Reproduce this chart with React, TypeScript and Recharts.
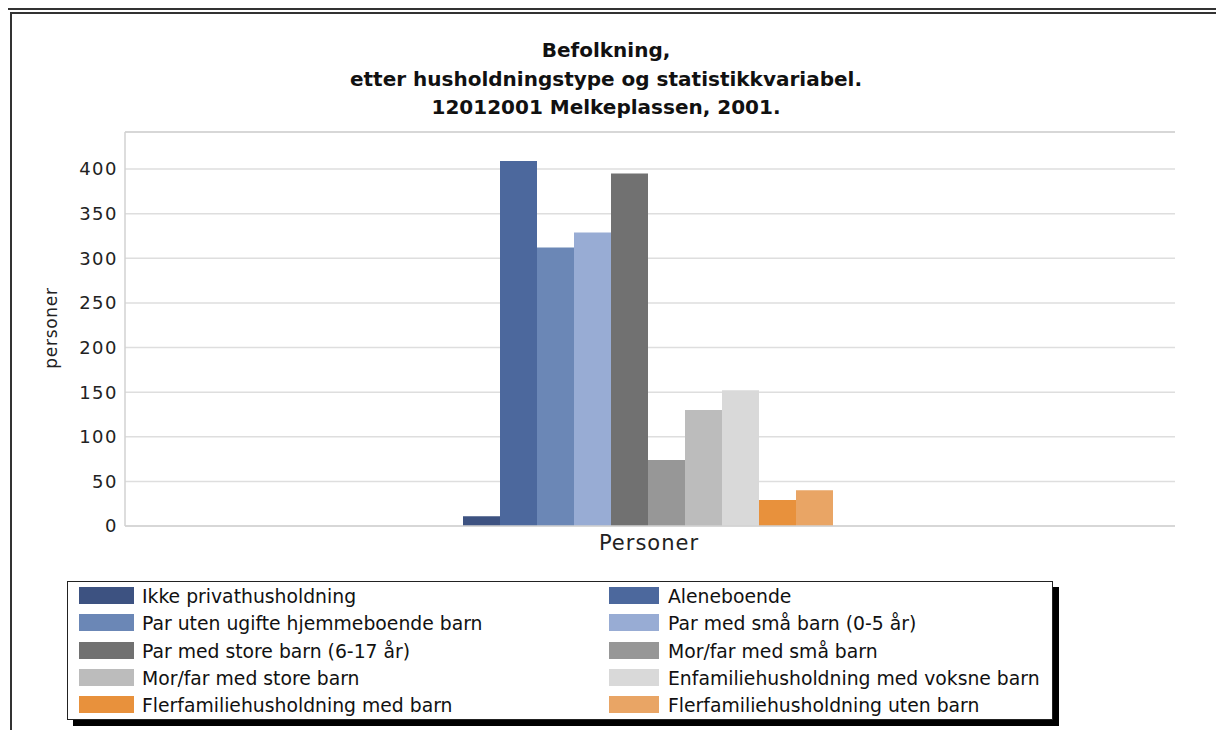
import { Bar, BarChart, CartesianGrid, ReferenceLine, XAxis, YAxis } from "recharts";

const categories = ["Personer"];
const seriesNames = [
  "Ikke privathusholdning",
  "Aleneboende",
  "Par uten ugifte hjemmeboende barn",
  "Par med små barn (0-5 år)",
  "Par med store barn (6-17 år)",
  "Mor/far med små barn",
  "Mor/far med store barn",
  "Enfamiliehusholdning med voksne barn",
  "Flerfamiliehusholdning med barn",
  "Flerfamiliehusholdning uten barn",
];
const seriesValues = [11, 409, 312, 329, 395, 74, 130, 152, 29, 40];
const seriesColors = [
  "#3d5281",
  "#4c689d",
  "#6b87b6",
  "#98acd4",
  "#717171",
  "#979797",
  "#bcbcbc",
  "#d9d9d9",
  "#e8913c",
  "#e9a565",
];
const yTicks = [0, 50, 100, 150, 200, 250, 300, 350, 400];
const yMax = 441.5;
const titleLines = [
  "Befolkning,",
  "etter husholdningstype og statistikkvariabel.",
  "12012001 Melkeplassen, 2001.",
];
const yLabel = "personer";

const data = categories.map((name) => {
  const row: Record<string, string | number> = { name };
  seriesValues.forEach((v, i) => {
    row[`s${i}`] = v;
  });
  return row;
});

const FONT = "'DejaVu Sans', Verdana, sans-serif";
const frame = "#333";
const border = "#d2d2d2";

export default function App() {
  return (
    <div
      style={{
        position: "relative",
        width: 1224,
        height: 738,
        margin: -8,
        overflow: "hidden",
        background: "#fff",
        fontFamily: FONT,
      }}
    >
      {/* outer double frame */}
      <div style={{ position: "absolute", left: 6, right: 0, top: 8, height: 2, background: frame }} />
      <div style={{ position: "absolute", left: 10, right: 0, top: 12, height: 2, background: frame }} />
      <div style={{ position: "absolute", left: 10, width: 2, top: 12, bottom: 0, background: frame }} />

      <div
        style={{
          position: "absolute",
          left: 0,
          width: 1212,
          top: 36,
          textAlign: "center",
          fontWeight: "bold",
          fontSize: 20,
          lineHeight: "28.5px",
          color: "#111",
        }}
      >
        {titleLines.map((t) => (
          <div key={t}>{t}</div>
        ))}
      </div>

      <div style={{ position: "absolute", left: 0, top: 0 }}>
        <BarChart
          width={1224}
          height={738}
          data={data}
          margin={{ top: 132, right: 49, bottom: 182, left: 0 }}
          barCategoryGap={338}
          barGap={0}
        >
          <CartesianGrid vertical={false} stroke="#dedede" strokeWidth={1.5} />
          <XAxis
            dataKey="name"
            height={30}
            padding={{ left: 0, right: 6 }}
            axisLine={{ stroke: border, strokeWidth: 1.5 }}
            tickLine={false}
            tickSize={0}
            tickMargin={9}
            tick={{ fill: "#222", fontSize: 21, fontFamily: FONT, letterSpacing: 1, dx: 2 }}
          />
          <YAxis
            width={125}
            domain={[0, yMax]}
            ticks={yTicks}
            allowDataOverflow
            axisLine={{ stroke: border, strokeWidth: 1.5 }}
            tickLine={false}
            tickSize={0}
            tickMargin={7}
            tick={{ fill: "#222", fontSize: 18, fontFamily: FONT, letterSpacing: 1.5 }}
            label={{
              content: (props: any) => {
                const vb = props.viewBox || { x: 0, y: 132, width: 125, height: 394 };
                const x = vb.x + 57;
                const y = vb.y + vb.height / 2 - 1;
                return (
                  <text
                    x={x}
                    y={y}
                    transform={`rotate(-90, ${x}, ${y})`}
                    textAnchor="middle"
                    fill="#222"
                    fontSize={17}
                    fontFamily={FONT}
                    letterSpacing={0.7}
                  >
                    {yLabel}
                  </text>
                );
              },
            }}
          />
          <YAxis
            yAxisId="r"
            orientation="right"
            width={0}
            tick={false}
            tickLine={false}
            axisLine={{ stroke: border, strokeWidth: 1.5 }}
          />
          <ReferenceLine y={yMax} stroke={border} strokeWidth={1.5} />
          {seriesNames.map((n, i) => (
            <Bar key={n} dataKey={`s${i}`} name={n} fill={seriesColors[i]} isAnimationActive={false} />
          ))}
        </BarChart>
      </div>

      {/* legend */}
      <div
        style={{
          position: "absolute",
          left: 67,
          top: 581,
          width: 984,
          height: 137,
          border: "1px solid #222",
          boxShadow: "6px 6px 0 #000",
          background: "#fff",
        }}
      >
        {seriesNames.map((n, i) => {
          const col = i % 2;
          const row = Math.floor(i / 2);
          return (
            <div
              key={n}
              style={{
                position: "absolute",
                left: col === 0 ? 11 : 541,
                top: 5 + row * 27.3,
                height: 17,
                display: "flex",
                alignItems: "center",
                whiteSpace: "nowrap",
              }}
            >
              <span
                style={{
                  display: "inline-block",
                  width: col === 0 ? 55 : 50,
                  height: 17,
                  background: seriesColors[i],
                  marginRight: col === 0 ? 8 : 9,
                }}
              />
              <span
                style={{
                  fontSize: 18.8,
                  lineHeight: "17px",
                  color: "#111",
                  position: "relative",
                  top: 1,
                }}
              >
                {n}
              </span>
            </div>
          );
        })}
      </div>
    </div>
  );
}
